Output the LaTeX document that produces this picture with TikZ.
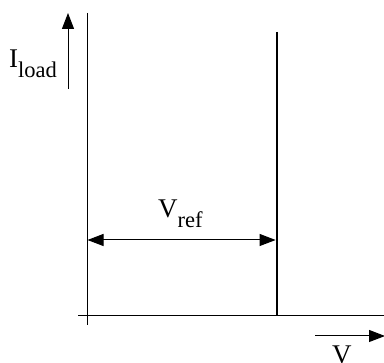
\documentclass[tikz,border=0pt]{standalone}
\usepackage{fontspec}
\setmainfont{Liberation Serif}
\usetikzlibrary{arrows.meta}
\newcommand\mainsz{\fontsize{27}{27}\selectfont}
\newcommand\subsz{\fontsize{22.5}{22.5}\selectfont}
\begin{document}
\begin{tikzpicture}[x=1pt,y=-1pt,
  thin axis/.style={line width=1pt},
  thick line/.style={line width=2.8pt},
  arr/.style={line width=1pt,-{Triangle[length=16pt,width=12pt]}},
  dim/.style={line width=1pt,{Triangle[length=16pt,width=12pt]}-{Triangle[length=16pt,width=12pt]}},
  lbl/.style={inner sep=0pt,anchor=base west,font=\mainsz}]
\useasboundingbox (0,0) rectangle (384,363);
% axes
\coordinate (yt) at (87,13);
\coordinate (yb) at (87,325);
\coordinate (xl) at (78,316);
\coordinate (xr) at (384,316);
\draw[thin axis] (yt) -- (yb);
\draw[thin axis] (xl) -- (xr);
% thick vertical line
\coordinate (lt) at (277,32);
\coordinate (lb) at (277,316);
\draw[thick line] (lt) -- (lb);
% Vref dimension
\coordinate (va) at (87.5,240);
\coordinate (vb) at (275.6,240);
\draw[dim] (va) -- (vb);
% I_load arrow
\coordinate (ia) at (68,89);
\coordinate (ib) at (68,13);
\draw[arr] (ia) -- (ib);
% V arrow
\coordinate (xa) at (315,336);
\coordinate (xb) at (385,336);
\draw[arr] (xa) -- (xb);
% labels
\node[lbl] (iload) at (9,68) {I\raisebox{-10pt}{\subsz load}};
\node[lbl] (vref) at (158,218) {V\raisebox{-10pt}{\subsz ref}};
\node[lbl] (vlab) at (332,364) {V};
\end{tikzpicture}
\end{document}
